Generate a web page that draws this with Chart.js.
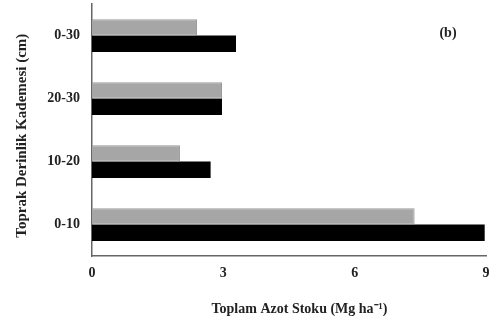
<!DOCTYPE html>
<html><head><meta charset="utf-8">
<script src="https://cdn.jsdelivr.net/npm/chart.js@4/dist/chart.umd.min.js"></script>
<style>html,body{margin:0;padding:0;background:#fff}#wrap{width:493px;height:327px}</style>
</head><body><div id="wrap"><canvas id="c"></canvas></div>
<script>
const categories = ['0-30', '20-30', '10-20', '0-10'];
const seriesGray = [2.40, 2.97, 2.01, 7.37];
const seriesBlack = [3.29, 2.97, 2.71, 8.97];
const xTicks = [0, 3, 6, 9];
const yTitle = 'Toprak Derinlik Kademesi (cm)';
const xTitle = 'Toplam Azot Stoku (Mg ha⁻¹)';
const panelLabel = '(b)';

const serif = '"Liberation Serif", "Times New Roman", serif';
const panelPlugin = {
  id: 'panel',
  afterDraw(chart) {
    const ctx = chart.ctx, a = chart.chartArea;
    ctx.save();
    ctx.font = 'bold 14px ' + serif;
    ctx.fillStyle = '#222';
    ctx.textAlign = 'center';
    ctx.textBaseline = 'middle';
    ctx.fillText(panelLabel, a.right - 38, a.top + 29);
    ctx.restore();
  }
};
const noEdgePad = s => { s.paddingTop = 0; s.paddingBottom = 0; };
new Chart(document.getElementById('c'), {
  type: 'bar',
  data: {
    labels: categories,
    datasets: [
      { data: seriesGray, backgroundColor: '#a6a6a6', borderColor: '#9a9a9a', borderWidth: 1, borderSkipped: 'start' },
      { data: seriesBlack, backgroundColor: '#000', borderColor: '#000', borderWidth: 0 }
    ]
  },
  options: {
    indexAxis: 'y',
    responsive: true,
    maintainAspectRatio: false,
    animation: false,
    layout: { padding: { top: 4, right: 7, left: 13, bottom: 9.6 } },
    plugins: { legend: { display: false }, tooltip: { enabled: false } },
    datasets: { bar: { categoryPercentage: 0.52, barPercentage: 1.0 } },
    scales: {
      x: {
        min: 0, max: 9,
        afterBuildTicks(s) { s.ticks = xTicks.map(v => ({ value: v })); },
        afterFit(s) { s.paddingLeft = 0; s.paddingRight = 0; },
        grid: { display: false, drawTicks: false },
        border: { display: true, color: '#666', width: 1.5 },
        ticks: { padding: 8.5, color: '#222', font: { family: serif, size: 14, weight: 'bold' } },
        title: { display: true, text: '\u2003\u2002' + xTitle, color: '#222', padding: { top: 10.7, bottom: 0 }, font: { family: serif, size: 14, weight: 'bold' } }
      },
      y: {
        afterFit: noEdgePad,
        grid: { display: false, drawTicks: false },
        border: { display: true, color: '#666', width: 1.5 },
        ticks: { padding: 12, color: '#222', font: { family: serif, size: 14, weight: 'bold' } },
        title: { display: true, text: yTitle + '\u2002\u2005', color: '#222', padding: { top: 0, bottom: 4.3 }, font: { family: serif, size: 15, weight: 'bold' } }
      }
    }
  },
  plugins: [panelPlugin]
});
</script></body></html>
